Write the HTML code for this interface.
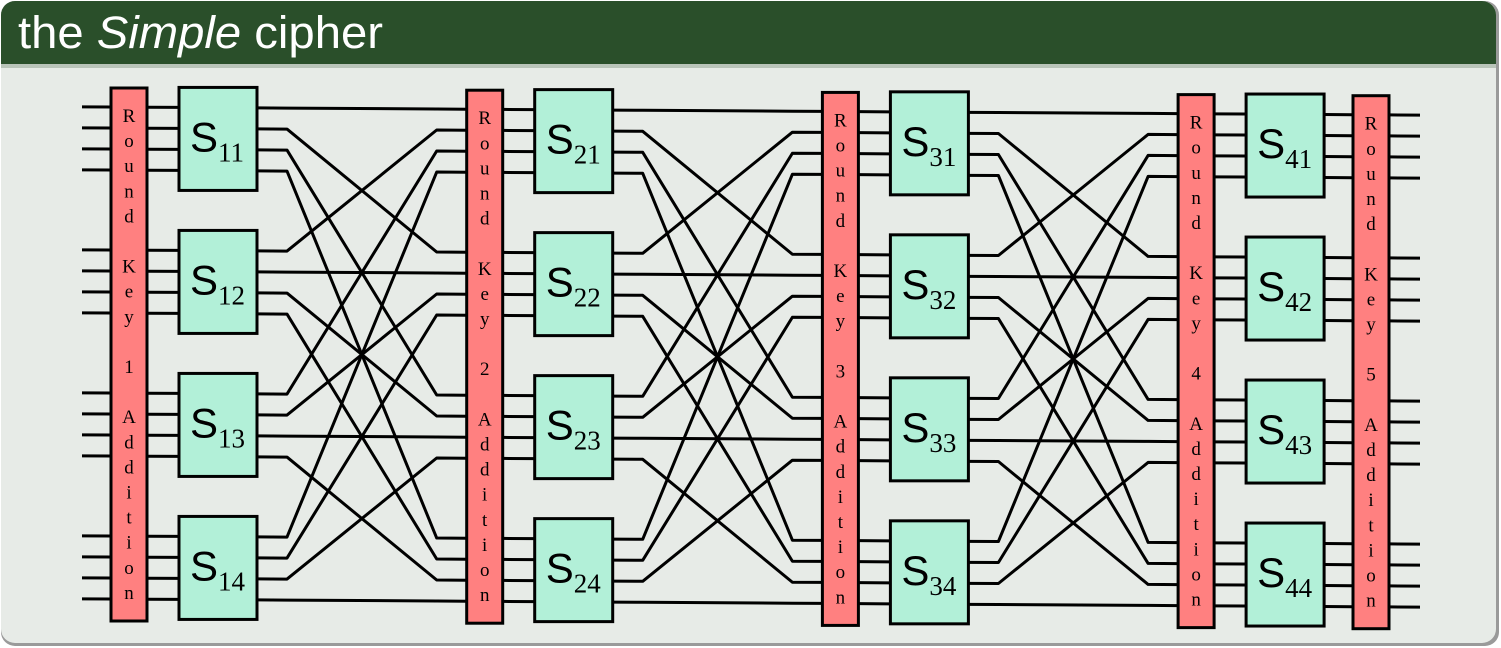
<!DOCTYPE html>
<html><head><meta charset="utf-8"><style>
html,body{margin:0;padding:0;background:#fff;}
#wrap{position:relative;width:1501px;height:648px;overflow:hidden;}
</style></head><body>
<div id="wrap">
<svg id="svg" width="1501" height="648" viewBox="0 0 1501 648" xmlns="http://www.w3.org/2000/svg">
  <rect x="1" y="1" width="1498" height="645" rx="14" fill="#9a9a9a"/>
  <rect x="1" y="1" width="1495" height="642" rx="14" fill="#e7ebe7"/>
  <path d="M1 66 V15 A14 14 0 0 1 15 1 H1482 A14 14 0 0 1 1496 15 V66 Z" fill="#2a4f2a"/>
  <rect x="1" y="64" width="1495" height="4" fill="#b9c4b9"/>
  <text x="18" y="48" fill="#ffffff" font-family="Liberation Sans, sans-serif" font-size="45" textLength="365" lengthAdjust="spacingAndGlyphs">the <tspan font-style="italic">Simple</tspan> cipher</text>
  <g id="diagram"></g>
</svg>
</div>
<script>
const rounds = [1, 2, 3, 4];
const boxesPerRound = [1, 2, 3, 4];
const keyLabels = ["1", "2", "3", "4", "5"];
const NS = "http://www.w3.org/2000/svg";
const g = document.getElementById('diagram');
const pitchX = 355.7, barX0 = 111, barW = 36, barTop = 88, barH = 533;
const boxOff = 68, boxW = 78, boxTop0 = 87, boxH = 103, boxPitch = 143;
function sh(x){ return 0.0062*(x-111); }
function wireY(box, bit){ return boxTop0 + box*boxPitch + 20 + bit*21; }
function mk(tag, attrs){ const e = document.createElementNS(NS, tag); for (const k in attrs) e.setAttribute(k, attrs[k]); g.appendChild(e); return e; }
function line(x1,y1,x2,y2,name){
  const e = mk('line',{x1:x1,y1:y1+sh(x1),x2:x2,y2:y2+sh(x2),stroke:'#000','stroke-width':3});
  
  
}
boxesPerRound.forEach((b,i)=>{ for(let j=0;j<4;j++){ line(82, wireY(i,j), barX0, wireY(i,j), 'input-wire'); } });
rounds.forEach((r,ri)=>{
  const bx = barX0 + ri*pitchX;
  const sx = bx + boxOff;
  boxesPerRound.forEach((b,i)=>{
    for(let j=0;j<4;j++){
      const y1 = wireY(i,j);
      line(bx+barW, y1, sx, y1, 'sbox-input-wire');
      if (ri < 3) {
        const nb = bx + pitchX;
        const y2 = wireY(j,i);
        const p = [[sx+boxW,y1],[sx+boxW+30,y1],[nb-30,y2],[nb,y2]].map(q=>q[0]+','+(q[1]+sh(q[0]))).join(' ');
        const e = mk('polyline',{points:p,fill:'none',stroke:'#000','stroke-width':3,'stroke-linejoin':'round'});
        
        
      } else {
        line(sx+boxW, y1, 1353, y1, 'sbox-output-wire');
        line(1389, y1, 1420, y1, 'output-wire');
      }
    }
  });
});
const barXs = [barX0, barX0+pitchX, barX0+2*pitchX, barX0+3*pitchX, 1353];
function barLetters(k){ return ["R","o","u","n","d","","K","e","y","",k,"","A","d","d","i","t","i","o","n"]; }
barXs.forEach((x,k)=>{
  const o = sh(x);
  const r = mk('rect',{x:x,y:barTop+o,width:barW,height:barH,fill:'#ff8080',stroke:'#000','stroke-width':3});
  
  
  barLetters(keyLabels[k]).forEach((c,n)=>{
    if(!c) return;
    const t = mk('text',{x:x+barW/2,y:barTop+o+34+n*25.1,'text-anchor':'middle','font-family':'Liberation Serif, serif','font-size':19,fill:'#000'});
    t.textContent = c;
    
    
  });
});
rounds.forEach((r,ri)=>{
  const sx = barX0 + ri*pitchX + boxOff;
  const o = sh(sx);
  boxesPerRound.forEach((b,i)=>{
    const y = boxTop0 + i*boxPitch + o;
    const rc = mk('rect',{x:sx,y:y,width:boxW,height:boxH,fill:'#b2f0d8',stroke:'#000','stroke-width':3});
    
    
    const t = mk('text',{x:sx+11,y:y+64,'font-family':'Liberation Sans, sans-serif','font-size':42,fill:'#000'});
    
    
    t.innerHTML = 'S<tspan font-family="Liberation Serif, serif" font-size="27" dy="10">' + r + b + '</tspan>';
  });
});
</script>
</body></html>
